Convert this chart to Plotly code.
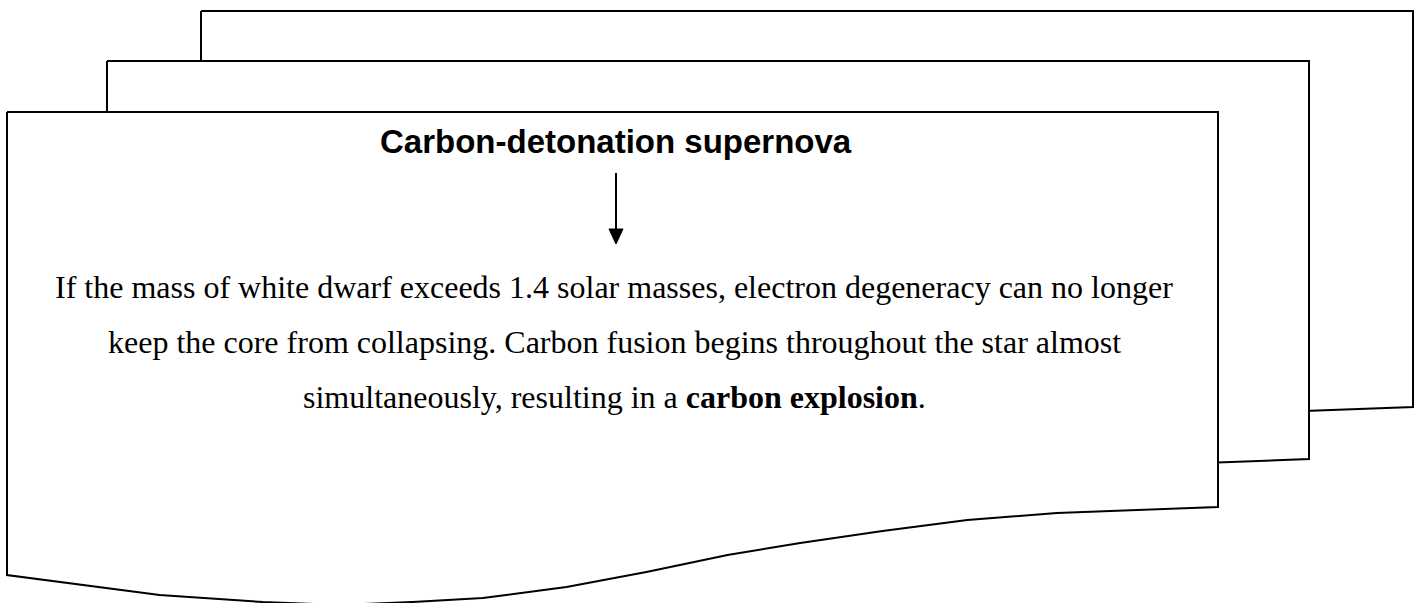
import plotly.graph_objects as go

# ---- diagram data ----
title_text = "Carbon-detonation supernova"
body_lines = [
    "If the mass of white dwarf exceeds 1.4 solar masses, electron degeneracy can no longer",
    "keep the core from collapsing. Carbon fusion begins throughout the star almost",
    "simultaneously, resulting in a <b>carbon explosion</b>.",
]

# stacked pages (back -> front): left, right, top, bottom at right edge
page_left = [201, 107, 7]
page_right = [1413, 1309, 1218]
page_top = [11, 61, 112]
page_bottom_right = [407, 459, 507]

# wavy bottom edge profile: fraction of width (from left), drop below right-bottom
wave_u = [1.0, 0.867, 0.793, 0.723, 0.655, 0.595, 0.528, 0.462, 0.393, 0.335, 0.275, 0.211, 0.126, 0.0]
wave_dy = [0, 6, 13, 24, 36, 48, 65, 80, 91, 95, 98, 95, 88, 68]

W, H = 1417, 603
fig = go.Figure()

for L, R, T, B in zip(page_left, page_right, page_top, page_bottom_right):
    xs = [L, R]
    ys = [T, T]
    for u, d in zip(wave_u, wave_dy):
        xs.append(L + u * (R - L))
        ys.append(B + d)
    xs.append(L)
    ys.append(T)
    fig.add_trace(go.Scatter(
        x=xs, y=ys, mode="lines", fill="toself", fillcolor="white",
        line=dict(color="black", width=2), hoverinfo="skip", showlegend=False,
    ))

# arrow
arrow_x = 616
arrow_y0, arrow_y1 = 173, 244
fig.add_trace(go.Scatter(
    x=[arrow_x, arrow_x], y=[arrow_y0, arrow_y1 - 12], mode="lines",
    line=dict(color="black", width=2), hoverinfo="skip", showlegend=False,
))
fig.add_trace(go.Scatter(
    x=[arrow_x - 7, arrow_x + 7, arrow_x, arrow_x - 7],
    y=[arrow_y1 - 15, arrow_y1 - 15, arrow_y1, arrow_y1 - 15],
    mode="lines", fill="toself", fillcolor="black",
    line=dict(color="black", width=1), hoverinfo="skip", showlegend=False,
))

# title
fig.add_annotation(
    x=616, y=141, text="<b>" + title_text + "</b>", showarrow=False,
    xanchor="center", yanchor="middle",
    font=dict(family="Liberation Sans, Arial", size=33, color="black"),
)

# body text
line_y = [287, 342, 397]
for txt, yy in zip(body_lines, line_y):
    fig.add_annotation(
        x=614, y=yy, text=txt, showarrow=False,
        xanchor="center", yanchor="middle",
        font=dict(family="Liberation Serif, Times New Roman", size=32, color="black"),
    )

fig.update_layout(
    width=W, height=H,
    margin=dict(l=0, r=0, t=0, b=0),
    paper_bgcolor="white", plot_bgcolor="white",
    xaxis=dict(range=[0, W], visible=False, fixedrange=True),
    yaxis=dict(range=[H, 0], visible=False, fixedrange=True),
    showlegend=False,
)

fig.write_html(
    "out.html",
    config={"displayModeBar": False},
    post_script="document.body.style.margin='0';document.body.style.overflow='hidden';",
)
